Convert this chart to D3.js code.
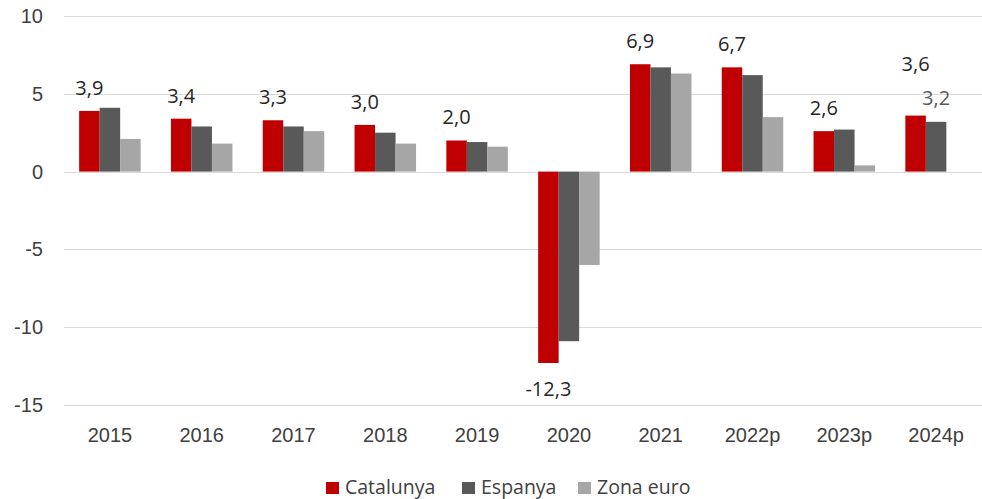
<!DOCTYPE html>
<html>
<head>
<meta charset="utf-8">
<script src="https://cdn.jsdelivr.net/npm/d3@7"></script>
<style>
  body { margin: 0; background: #fff; }
  svg { display: block; font-family: "Open Sans", sans-serif; }
  .grid line { stroke: #d9d9d9; stroke-width: 1; }
  .tick text { fill: #404040; font-size: 20px; }
</style>
</head>
<body>
<svg width="982" height="499"></svg>
<script>
// categories and series
var years = ["2015", "2016", "2017", "2018", "2019", "2020", "2021", "2022p", "2023p", "2024p"];
var seriesNames = ["Catalunya", "Espanya", "Zona euro"];
var catalunya = [3.9, 3.4, 3.3, 3.0, 2.0, -12.3, 6.9, 6.7, 2.6, 3.6];
var espanya   = [4.1, 2.9, 2.9, 2.5, 1.9, -10.9, 6.7, 6.2, 2.7, 3.2];
var zonaEuro  = [2.1, 1.8, 2.6, 1.8, 1.6, -6.0, 6.3, 3.5, 0.4, null];
var yTicks = [-15, -10, -5, 0, 5, 10];
var colors = ["#c00000", "#595959", "#a6a6a6"];

var svg = d3.select("svg"),
    width = +svg.attr("width"),
    height = +svg.attr("height");

let margin = { left: 64, right: 0, top: 16, bottom: 94 };

var loc = d3.formatLocale({ decimal: ",", thousands: ".", grouping: [3], currency: ["", "€"], minus: "-" });
var fmt = loc.format(".1f");

var x = d3.scaleBand()
    .domain(years)
    .range([margin.left, width - margin.right])
    .paddingInner(0.33)
    .paddingOuter(0.165);

var xs = d3.scaleBand()
    .domain(seriesNames)
    .range([0, x.bandwidth()]);

var y = d3.scaleLinear()
    .domain([-15, 10])
    .range([height - margin.bottom, margin.top]);

var color = d3.scaleOrdinal().domain(seriesNames).range(colors);

// gridlines
svg.append("g")
    .attr("class", "grid")
  .selectAll("line")
    .data(yTicks)
  .enter().append("line")
    .attr("x1", margin.left)
    .attr("x2", width - margin.right)
    .attr("y1", function(d) { return Math.round(y(d)) + 0.5; })
    .attr("y2", function(d) { return Math.round(y(d)) + 0.5; });

// y axis
var yAxis = svg.append("g")
    .attr("transform", "translate(" + (margin.left - 21) + ",0)")
    .call(d3.axisLeft(y).tickValues(yTicks).tickSize(0).tickFormat(loc.format("d")));
yAxis.select(".domain").remove();
yAxis.selectAll(".tick text").attr("x", 0);

// x axis
var xAxis = svg.append("g")
    .attr("transform", "translate(0," + (height - margin.bottom + 20) + ")")
    .call(d3.axisBottom(x).tickSize(0));
xAxis.select(".domain").remove();

var rows = years.map(function(yr, i) {
  return { year: yr, values: [catalunya[i], espanya[i], zonaEuro[i]] };
});

// bars
var groups = svg.append("g")
  .selectAll("g")
    .data(rows)
  .enter().append("g")
    .attr("transform", function(d) { return "translate(" + x(d.year) + ",0)"; });

groups.selectAll("rect")
    .data(function(d) {
      return seriesNames.map(function(s, j) { return { series: s, value: d.values[j] }; })
        .filter(function(e) { return e.value != null; });
    })
  .enter().append("rect")
    .attr("x", function(d) { return xs(d.series); })
    .attr("width", xs.bandwidth())
    .attr("y", function(d) { return y(Math.max(0, d.value)); })
    .attr("height", function(d) { return Math.abs(y(d.value) - y(0)); })
    .attr("fill", function(d) { return color(d.series); });

// data labels for Catalunya
var labels = svg.append("g")
    .attr("font-size", "20px")
    .attr("text-anchor", "middle");

labels.selectAll("text.cat")
    .data(rows)
  .enter().append("text")
    .attr("class", "cat")
    .attr("fill", "#262626")
    .attr("x", function(d) { return x(d.year) + xs("Catalunya") + xs.bandwidth() / 2; })
    .attr("y", function(d) {
      var v = d.values[0];
      if (v < 0) return y(v) + 33;
      var lift = d.year === "2024p" ? 45 : 16;
      return y(v) - lift;
    })
    .text(function(d) { return fmt(d.values[0]); });

// Espanya label for the last year
var last = rows[rows.length - 1];
labels.append("text")
    .attr("fill", "#595959")
    .attr("x", x(last.year) + xs("Espanya") + xs.bandwidth() / 2)
    .attr("y", y(last.values[1]) - 17)
    .text(fmt(last.values[1]));

// legend
var legendX = [326, 462, 578];
var legend = svg.append("g")
    .attr("transform", "translate(0," + (height - 5) + ")");

var item = legend.selectAll("g")
    .data(seriesNames)
  .enter().append("g")
    .attr("transform", function(d, i) { return "translate(" + legendX[i] + ",0)"; });

item.append("rect")
    .attr("y", -12)
    .attr("width", 13)
    .attr("height", 12)
    .attr("fill", function(d) { return color(d); });

item.append("text")
    .attr("x", 19)
    .attr("y", 0)
    .attr("font-size", "19.5px")
    .attr("fill", "#404040")
    .text(function(d) { return d; });
</script>
</body>
</html>
